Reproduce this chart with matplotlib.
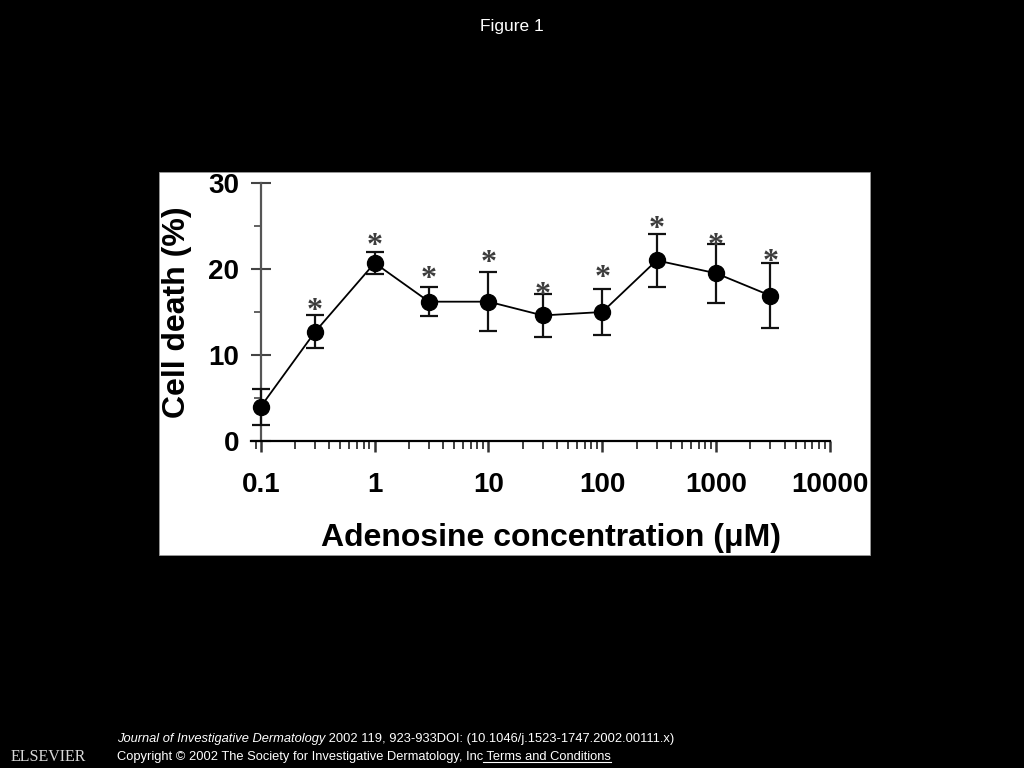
import matplotlib
matplotlib.use("Agg")
import matplotlib.pyplot as plt
from matplotlib.patches import Rectangle
from matplotlib.lines import Line2D
from matplotlib.transforms import Bbox, TransformedBbox, ScaledTranslation

# ---------------- data ----------------
conc = [0.1, 0.3, 1, 3, 10, 30, 100, 300, 1000, 3000]          # adenosine (uM)
death = [4.0, 12.7, 20.7, 16.2, 16.2, 14.6, 15.0, 21.0, 19.5, 16.9]  # cell death (%)
err = [2.1, 1.9, 1.3, 1.7, 3.4, 2.45, 2.7, 3.05, 3.45, 3.75]
significant = [False, True, True, True, True, True, True, True, True, True]
star_y = [0, 16.2, 23.7, 19.9, 21.8, 18.1, 20.0, 25.7, 23.8, 21.9]

x_ticks = [0.1, 1, 10, 100, 1000, 10000]
x_ticklabels = ["0.1", "1", "10", "100", "1000", "10000"]
y_ticks = [0, 10, 20, 30]
y_ticklabels = ["0", "10", "20", "30"]

title = "Figure 1"
ylabel = "Cell death (%)"
xlabel = "Adenosine concentration (\u03bcM)"
foot_italic = "Journal of Investigative Dermatology"
foot_rest = " 2002 119, 923-933DOI: (10.1046/j.1523-1747.2002.00111.x)"
foot2 = "Copyright \u00a9 2002 The Society for Investigative Dermatology, Inc"
foot2_link = " Terms and Conditions"

W, H = 1024, 768
fig = plt.figure(figsize=(W / 100, H / 100), dpi=100, facecolor="black")

def fx(px):
    return px / W

def fy(py):
    return 1 - py / H

# white panel holding the chart
px0, py0, px1, py1 = 159, 172, 870, 555
panel = Rectangle((fx(px0), fy(py1)), fx(px1 - px0), (py1 - py0) / H,
                  transform=fig.transFigure, facecolor="white",
                  edgecolor="#9a9a9a", linewidth=0.6, zorder=-5)
fig.patches.append(panel)
clipbox = TransformedBbox(Bbox.from_extents(fx(px0), fy(py1), fx(px1), fy(py0)),
                          fig.transFigure)

# axes (x axis line starts a little left of the 0.1 tick)
ax_l, ax_r, ax_b, ax_t = 251, 830, 441, 183
ax = fig.add_axes([fx(ax_l), fy(ax_b), fx(ax_r - ax_l), (ax_b - ax_t) / H])
ax.patch.set_visible(False)
ax.set_xscale("log")
ax.set_xlim(0.082, 10000)
ax.set_ylim(0, 30)

for s in ["top", "right"]:
    ax.spines[s].set_visible(False)
ax.spines["left"].set_position(("data", 0.1))
ax.spines["left"].set_color("#555555")
ax.spines["left"].set_linewidth(1.6)
ax.spines["bottom"].set_color("black")
ax.spines["bottom"].set_linewidth(1.6)

tick_font = dict(family="Liberation Sans", weight="bold", size=20)

ax.set_xticks(x_ticks)
ax.set_xticklabels(x_ticklabels, fontdict=tick_font)
ax.set_yticks(y_ticks)
ax.set_yticklabels(y_ticklabels, fontdict=tick_font)
ax.set_yticks([5, 15, 25], minor=True)

ax.tick_params(axis="x", which="major", direction="out", length=8, width=1.8,
               color="#333333", pad=14)
ax.tick_params(axis="x", which="minor", direction="out", length=6, width=1.3,
               color="#333333")
ax.tick_params(axis="y", which="major", direction="inout", length=15, width=1.5,
               color="#444444", pad=8)
ax.tick_params(axis="y", which="minor", direction="out", length=5, width=1.3,
               color="#555555")
ax.xaxis.set_minor_formatter(matplotlib.ticker.NullFormatter())

for lab in ax.get_xticklabels() + ax.get_yticklabels():
    lab.set_clip_on(True)
    lab.set_clip_box(clipbox)

# data
ax.errorbar(conc, death, yerr=err, fmt="-o", color="black", ecolor="#111111",
            elinewidth=1.6, capsize=6.5, capthick=1.6, linewidth=1.3,
            markersize=11.5, clip_on=False, zorder=3)

# significance asterisks
off = ScaledTranslation(0, -7 / 72, fig.dpi_scale_trans)
for xv, yv, sig in zip(conc, star_y, significant):
    if sig:
        ax.text(xv, yv, "*", ha="center", va="center",
                family="Liberation Serif", fontsize=23, weight="bold",
                color="#3c3c3c", transform=ax.transData + off, clip_on=False)

# axis labels
label_font = dict(family="Liberation Sans", weight="bold", size=23)
ax.set_ylabel(ylabel, fontdict=label_font)
ax.yaxis.label.set_va("center")
ax.yaxis.set_label_coords((177 - ax_l) / (ax_r - ax_l), 0.5)
ax.set_xlabel(xlabel, fontdict=label_font)
ax.xaxis.label.set_va("center")
ax.xaxis.set_label_coords((551 - ax_l) / (ax_r - ax_l), -(538 - ax_b) / (ax_b - ax_t))

# title and footer
fig.text(0.5, fy(27), title, ha="center", va="center", color="white",
         family="Liberation Sans", fontsize=12.5)

fig.text(fx(48), fy(757), "ELSEVIER", ha="center", va="center", color="#d8d8d8",
         family="Liberation Serif", fontsize=11.5)

fs = 9.3
t1 = fig.text(fx(117), fy(742), foot_italic, ha="left", va="baseline",
              color="white", family="Liberation Sans", style="italic", fontsize=fs)
t3 = fig.text(fx(117), fy(760), foot2, ha="left", va="baseline",
              color="white", family="Liberation Sans", fontsize=fs)
fig.canvas.draw()
r = fig.canvas.get_renderer()
e1 = t1.get_window_extent(r)
fig.text(e1.x1 / W, fy(742), foot_rest, ha="left", va="baseline",
         color="white", family="Liberation Sans", fontsize=fs)
e3 = t3.get_window_extent(r)
t4 = fig.text(e3.x1 / W, fy(760), foot2_link, ha="left", va="baseline",
              color="white", family="Liberation Sans", fontsize=fs)
fig.canvas.draw()
e4 = t4.get_window_extent(r)
fig.add_artist(Line2D([e4.x0 / W, e4.x1 / W], [fy(762), fy(762)],
                      transform=fig.transFigure, color="white", linewidth=0.8))

fig.savefig("out.png", dpi=100, facecolor="black")
